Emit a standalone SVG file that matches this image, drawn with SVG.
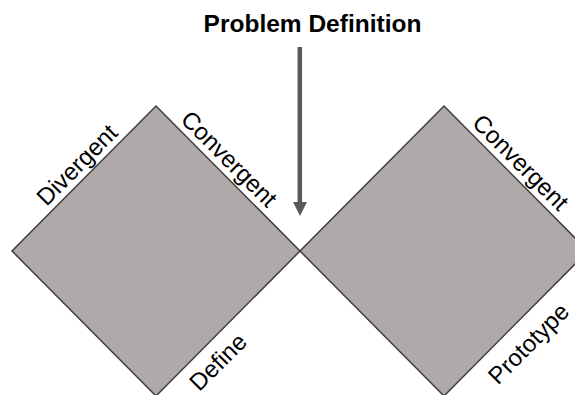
<svg xmlns="http://www.w3.org/2000/svg" width="575" height="395" viewBox="0 0 575 395">
  <style>
    .diamond { fill: #afa9a9; stroke: #3f3f3f; stroke-width: 1.5; stroke-linejoin: miter; }
    .lbl { font-family: "Liberation Sans", Arial, sans-serif; font-size: 24px; fill: #000000; text-anchor: middle; }
    .title { font-family: "Liberation Sans", Arial, sans-serif; font-size: 24.5px; font-weight: bold; fill: #000000; text-anchor: middle; }
  </style>
  <rect width="575" height="395" fill="#ffffff"/>
  <g id="left-diamond">
    <polygon class="diamond" points="156,106 300,251 156,396 12,251"/>
  </g>
  <g id="right-diamond">
    <polygon class="diamond" points="444,106 588,251 444,396 300,251"/>
  </g>
  <g id="title">
    <text class="title" x="312.5" y="31.5">Problem Definition</text>
  </g>
  <g id="connectors">
    <line x1="299.8" y1="47" x2="299.8" y2="203" stroke="#595959" stroke-width="4.5"/>
    <polygon points="293,202 307,202 300,216" fill="#595959"/>
  </g>
  <g id="labels">
    <text class="lbl" transform="translate(88,176) rotate(-45)" x="0" y="-7.5">Divergent</text>
    <text class="lbl" transform="translate(218,170) rotate(45)" x="0" y="-7.5">Convergent</text>
    <text class="lbl" transform="translate(509.5,173.5) rotate(45)" x="0" y="-7.5">Convergent</text>
    <text class="lbl" transform="translate(204,348) rotate(-45)" x="0" y="28">Define</text>
    <text class="lbl" transform="translate(512.5,327.5) rotate(-45)" x="0" y="31">Prototype</text>
  </g>
</svg>
